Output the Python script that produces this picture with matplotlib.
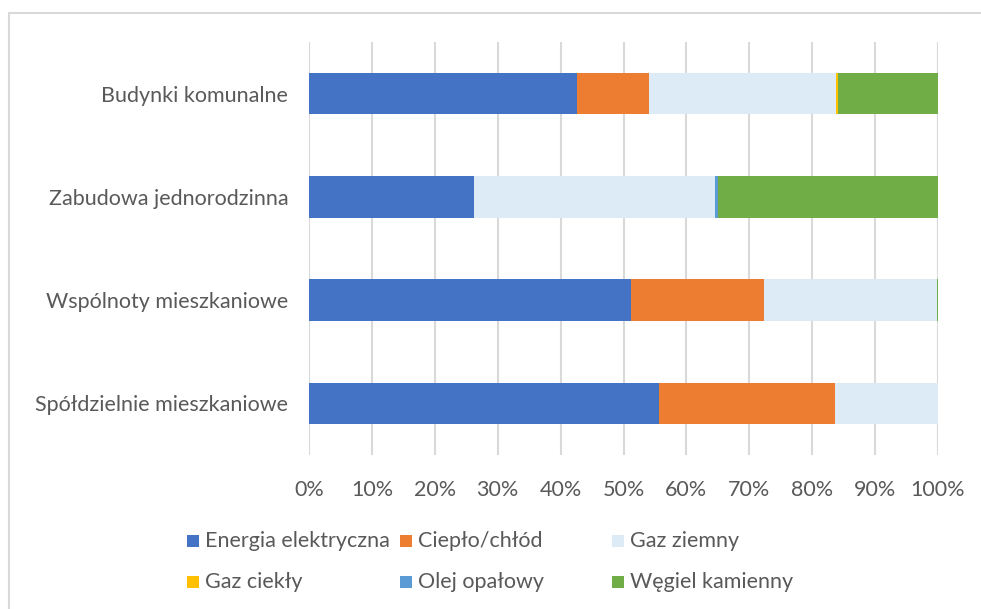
import matplotlib
matplotlib.use("Agg")
import matplotlib.pyplot as plt
from matplotlib.patches import Rectangle
import numpy as np

plt.rcParams['font.family'] = ['Lato', 'DejaVu Sans']

categories = ["Spółdzielnie mieszkaniowe", "Wspólnoty mieszkaniowe",
              "Zabudowa jednorodzinna", "Budynki komunalne"]
series_names = ["Energia elektryczna", "Ciepło/chłód", "Gaz ziemny",
                "Gaz ciekły", "Olej opałowy", "Węgiel kamienny"]
energia = [55.7, 51.2, 26.3, 42.6]
cieplo = [28.0, 21.1, 0.0, 11.5]
gaz_ziemny = [16.3, 27.5, 38.3, 29.7]
gaz_ciekly = [0.0, 0.0, 0.0, 0.3]
olej = [0.0, 0.0, 0.4, 0.0]
wegiel = [0.0, 0.2, 35.0, 15.9]
colors = ["#4472C4", "#ED7D31", "#DDEBF7", "#FFC000", "#5B9BD5", "#70AD47"]
xticks = [0, 10, 20, 30, 40, 50, 60, 70, 80, 90, 100]
xticklabels = [f"{t}%" for t in xticks]

W, H = 981, 609
FS = 15.5
fig = plt.figure(figsize=(W / 100, H / 100), dpi=100)
ax = fig.add_axes([309 / W, 1 - 455 / H, (938 - 309) / W, (455 - 42) / H])

series = [energia, cieplo, gaz_ziemny, gaz_ciekly, olej, wegiel]
y = np.arange(len(categories))
left = np.zeros(len(categories))
for vals, c, name in zip(series, colors, series_names):
    v = np.array(vals)
    ax.barh(y, v, left=left, height=0.4, color=c, label=name, zorder=3)
    left += v

ax.set_xlim(0, 100)
ax.set_ylim(-0.5, len(categories) - 0.5)
ax.set_xticks(xticks)
ax.set_xticklabels(xticklabels)
ax.set_yticks(y)
ax.set_yticklabels(categories)
ax.grid(axis='x', color='#D9D9D9', linewidth=1.5, zorder=0)
ax.set_axisbelow(True)
for s in ax.spines.values():
    s.set_visible(False)
ax.tick_params(axis='both', length=0, labelsize=FS, colors='#595959')
ax.tick_params(axis='x', pad=18)
ax.tick_params(axis='y', pad=15)

# chart border
fig.add_artist(Rectangle((9 / W, -0.1), 1.2, 1 - 13 / H + 0.1,
                         transform=fig.transFigure, fill=False,
                         edgecolor='#D9D9D9', linewidth=1.5))

# legend (Excel style, equal column widths)
col_x = [187, 400, 612]
row_y = [541, 582]
for i, (name, c) in enumerate(zip(series_names, colors)):
    r, col = divmod(i, 3)
    xp = col_x[col]
    yp = row_y[r]
    fig.add_artist(Rectangle((xp / W, 1 - (yp + 6) / H), 12 / W, 12 / H,
                             transform=fig.transFigure, facecolor=c,
                             edgecolor='none'))
    fig.text((xp + 18) / W, 1 - yp / H, name, fontsize=FS, color='#595959',
             va='center', ha='left')

fig.savefig("out.png", dpi=100)
